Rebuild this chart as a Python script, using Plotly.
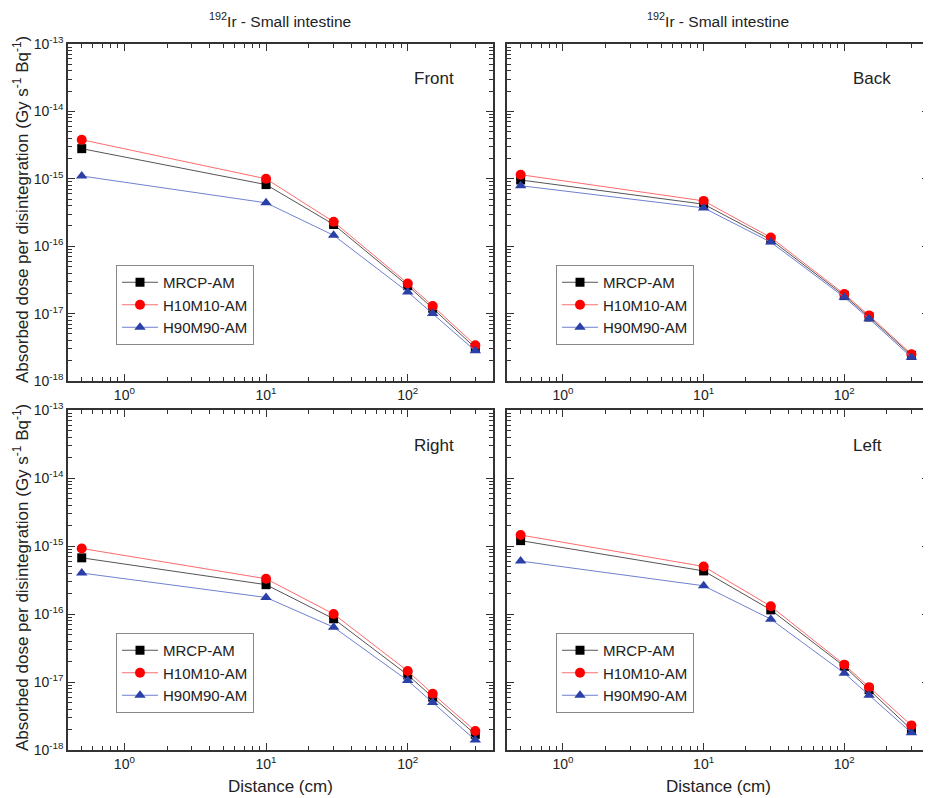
import plotly.graph_objects as go
import numpy as np

distance = [0.5, 10, 30, 100, 150, 300]
series_names = ["MRCP-AM", "H10M10-AM", "H90M90-AM"]

front_mrcp = [2.8e-15, 8.2e-16, 2.1e-16, 2.6e-17, 1.2e-17, 3.1e-18]
front_h10 = [3.8e-15, 1.0e-15, 2.3e-16, 2.8e-17, 1.3e-17, 3.4e-18]
front_h90 = [1.1e-15, 4.4e-16, 1.45e-16, 2.1e-17, 1.0e-17, 2.8e-18]

back_mrcp = [9.6e-16, 4.2e-16, 1.25e-16, 1.85e-17, 8.9e-18, 2.4e-18]
back_h10 = [1.15e-15, 4.7e-16, 1.35e-16, 1.95e-17, 9.4e-18, 2.5e-18]
back_h90 = [7.9e-16, 3.7e-16, 1.15e-16, 1.75e-17, 8.4e-18, 2.25e-18]

right_mrcp = [6.7e-16, 2.7e-16, 8.5e-17, 1.27e-17, 6.0e-18, 1.7e-18]
right_h10 = [9.2e-16, 3.3e-16, 1.0e-16, 1.45e-17, 6.7e-18, 1.9e-18]
right_h90 = [4.0e-16, 1.75e-16, 6.4e-17, 1.05e-17, 5.0e-18, 1.4e-18]

left_mrcp = [1.2e-15, 4.3e-16, 1.15e-16, 1.7e-17, 7.7e-18, 2.0e-18]
left_h10 = [1.45e-15, 5.0e-16, 1.3e-16, 1.8e-17, 8.4e-18, 2.3e-18]
left_h90 = [6.0e-16, 2.6e-16, 8.4e-17, 1.35e-17, 6.4e-18, 1.8e-18]

panel_labels = ["Front", "Back", "Right", "Left"]
panel_data = [
    [front_mrcp, front_h10, front_h90],
    [back_mrcp, back_h10, back_h90],
    [right_mrcp, right_h10, right_h90],
    [left_mrcp, left_h10, left_h90],
]

y_tickvals = [1e-18, 1e-17, 1e-16, 1e-15, 1e-14, 1e-13]
y_ticktext = ["10<sup>-18</sup>", "10<sup>-17</sup>", "10<sup>-16</sup>",
              "10<sup>-15</sup>", "10<sup>-14</sup>", "10<sup>-13</sup>"]
x_tickvals = [1, 10, 100]
x_ticktext = ["10<sup>0</sup>", "10<sup>1</sup>", "10<sup>2</sup>"]

title_text = "<sup>192</sup>Ir - Small intestine"
ytitle_text = "Absorbed dose per disintegration (Gy s<sup>-1</sup> Bq<sup>-1</sup>)"
xtitle_text = "Distance (cm)"

marker_colors = ["#000000", "#ff0000", "#2b3fa8"]
line_colors = ["#555555", "#ff6b6b", "#7080d0"]
symbols = ["square", "circle", "triangle-up"]

W, H = 931, 798
OFF_X = 8
OFF_Y = 6
def px_x(v):
    return (v - OFF_X) / W
def px_y(v):
    return 1 - (v - OFF_Y) / H

x_domains = [[px_x(68), px_x(493)], [px_x(507), px_x(929)]]
y_domains = [[px_y(379), px_y(42)], [px_y(748), px_y(408)]]

fig = go.Figure()

x_minor = [v * 10**d for d in range(-1, 3) for v in range(2, 10) if 0.4 <= v * 10**d <= 400]
y_minor = [v * 10.0**d for d in range(-18, -13) for v in range(2, 10)]

FONT = "Liberation Sans, Arial, sans-serif"
axis_font = dict(family=FONT, size=14, color="#222")
frame_color = "#333333"

legend_pos = [(116, 263), (556, 263), (116, 631), (556, 631)]

for i in range(4):
    row, col = divmod(i, 2)
    n = i + 1
    xa = "x" if n == 1 else f"x{n}"
    ya = "y" if n == 1 else f"y{n}"
    lg = "legend" if n == 1 else f"legend{n}"
    for s in range(3):
        fig.add_trace(go.Scatter(
            x=distance, y=panel_data[i][s], name=series_names[s],
            mode="lines+markers",
            line=dict(color=line_colors[s], width=1),
            marker=dict(symbol=symbols[s], color=marker_colors[s], size=10 if s != 0 else 9),
            xaxis=xa, yaxis=ya, legend=lg,
        ))
    xkey = "xaxis" if n == 1 else f"xaxis{n}"
    ykey = "yaxis" if n == 1 else f"yaxis{n}"
    fig.layout[xkey] = dict(
        type="log", domain=x_domains[col], anchor=ya, automargin=False,
        range=[np.log10(0.4), np.log10(400)],
        tickvals=x_tickvals, ticktext=x_ticktext,
        ticks="inside", ticklen=7, tickwidth=1, tickcolor=frame_color,
        minor=dict(tickvals=x_minor, ticks="inside", ticklen=4, tickcolor=frame_color, showgrid=False),
        showline=True, linecolor=frame_color, linewidth=1.5, mirror="ticks",
        showgrid=False, zeroline=False, tickfont=axis_font,
    )
    fig.layout[ykey] = dict(
        type="log", domain=y_domains[row], anchor=xa, automargin=False,
        range=[-18, -13],
        tickvals=y_tickvals, ticktext=y_ticktext,
        ticks="inside", ticklen=7, tickwidth=1, tickcolor=frame_color,
        minor=dict(tickvals=y_minor, ticks="inside", ticklen=4, tickcolor=frame_color, showgrid=False),
        showline=True, linecolor=frame_color, linewidth=1.5, mirror="ticks",
        showgrid=False, zeroline=False, tickfont=axis_font,
        showticklabels=(col == 0),
    )
    lx, ly = legend_pos[i]
    fig.layout[lg] = dict(
        x=px_x(lx), y=px_y(ly), xanchor="left", yanchor="top",
        bgcolor="white", bordercolor="#888888", borderwidth=1,
        font=dict(family=FONT, size=15, color="#222"),
        tracegroupgap=0, itemwidth=36,
    )
    label_pos = [(434, 76), (872, 76), (434, 443), (867, 443)][i]
    fig.add_annotation(text=panel_labels[i], x=px_x(label_pos[0]), y=px_y(label_pos[1]),
                       xref="paper", yref="paper", showarrow=False,
                       xanchor="center", yanchor="middle",
                       font=dict(family=FONT, size=17, color="#222"))

# x-axis titles (bottom row)
for cx in [280, 718]:
    fig.add_annotation(text=xtitle_text, x=px_x(cx), y=px_y(784), xref="paper", yref="paper",
                       showarrow=False, xanchor="center", yanchor="middle",
                       font=dict(family=FONT, size=17, color="#222"))

# column titles
for cx in [280, 718]:
    fig.add_annotation(text=title_text, x=px_x(cx), y=px_y(18), xref="paper", yref="paper",
                       showarrow=False, xanchor="center", yanchor="middle",
                       font=dict(family=FONT, size=15.5, color="#222"))

# y-axis titles
for cy in [208, 576]:
    fig.add_annotation(text=ytitle_text, x=px_x(21), y=px_y(cy), xref="paper", yref="paper",
                       showarrow=False, textangle=-90, xanchor="center", yanchor="middle",
                       font=dict(family=FONT, size=17, color="#222"))

fig.update_layout(
    width=W, height=H, margin=dict(l=0, r=0, t=0, b=0, autoexpand=False),
    paper_bgcolor="white", plot_bgcolor="white",
    showlegend=True,
)

fig.write_html("out.html")
